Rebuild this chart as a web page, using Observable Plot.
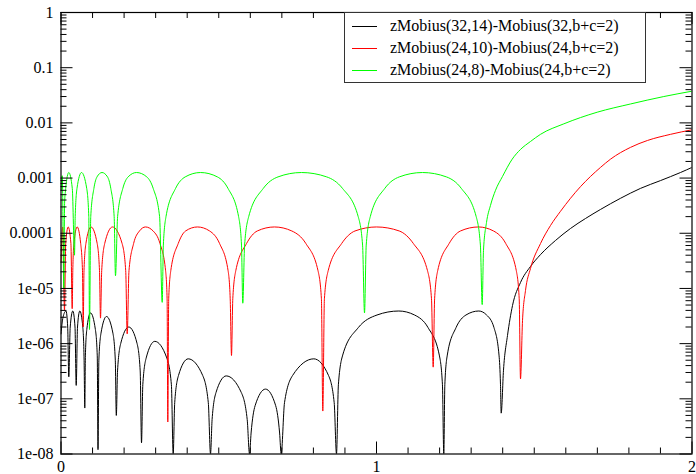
<!DOCTYPE html>
<html>
<head>
<meta charset="utf-8">
<script src="https://cdn.jsdelivr.net/npm/d3@7"></script>
<script src="https://cdn.jsdelivr.net/npm/@observablehq/plot@0.6"></script>
<style>
  body { margin: 0; background: #fff; }
  #wrap { position: relative; width: 696px; height: 474px; font-family: "Liberation Serif", "DejaVu Serif", serif; }
  #wrap svg, #wrap svg text { font-family: "Liberation Serif", "DejaVu Serif", serif !important; }
  #legend { position: absolute; left: 344px; top: 12px; width: 302px; height: 71px; box-sizing: border-box;
            border: 1px solid #333; background: #fff; font-size: 16px; color: #000; }
  .row { position: absolute; left: 0; height: 20px; }
  .sw { position: absolute; left: 7px; width: 25px; top: 10px; height: 0; border-top: 1px solid; }
  .lab { position: absolute; left: 45px; top: 0; line-height: 20px; white-space: nowrap; }
</style>
</head>
<body>
<div id="wrap"></div>
<script>
// ---------- data ----------
const seriesNames = [
  "zMobius(32,14)-Mobius(32,b+c=2)",
  "zMobius(24,10)-Mobius(24,b+c=2)",
  "zMobius(24,8)-Mobius(24,b+c=2)"
];
const seriesColors = ["#000000", "#ff0000", "#00ff00"];

const blackX = [0,0.0063,0.0158,0.0212,0.0247, 0.0292,0.0374,0.0444,0.0482,
  0.0523,0.0596,0.0691,0.0732,0.0754, 0.0773,0.0818,0.0935,0.109,0.1149,0.1173,
  0.12,0.1268,0.1442,0.1645,0.1721,0.1753, 0.1792,0.1892,0.2149,0.2412,0.251,0.2552,
  0.2593,0.27,0.2973,0.3353,0.3499,0.3556, 0.3604,0.3724,0.4032,0.4491,0.4669,0.4739,
  0.4789,0.4913,0.5236,0.5715,0.5902,0.5975, 0.6025,0.6152,0.6482,0.6805,0.6929,0.6979,
  0.7084,0.7341,0.8013,0.8479,0.8659,0.8732,
  0.8792,0.8929,0.9423,1.0016,1.0707,1.1206,1.1634,1.199,1.209,1.2133,
  1.2166,1.2244,1.2521,1.2835,1.3242,1.349,1.3724,1.3883,1.393,1.3952,
  1.4025,1.4152,1.4311,1.4564,1.4881,1.5198,1.5674,1.6149,1.6624,1.71,1.7734,1.8368,1.9002,1.9635,2.0];
const blackY = [1.5e-6,3.0e-6,3.9e-6,2.0e-6,2.5e-7, 2.0e-6,3.9e-6,2.0e-6,1.75e-7,
  2.0e-6,3.9e-6,2.0e-6,5.0e-7,6.8e-8, 6e-7,1.8e-6,3.6e-6,1.8e-6,6e-7,1.2e-8,
  5e-7,1.55e-6,3.1e-6,1.55e-6,5e-7,5e-8, 3.2e-7,1e-6,2e-6,1e-6,3.2e-7,1.6e-8,
  1.8e-7,5.5e-7,1.1e-6,5.5e-7,1.8e-7,1e-8, 8.5e-8,2.65e-7,5.3e-7,2.65e-7,8.5e-8,1e-8,
  4.2e-8,1.3e-7,2.6e-7,1.3e-7,4.2e-8,1e-8, 2.4e-8,7.5e-8,1.5e-7,7.5e-8,2.4e-8,1e-8,
  8.5e-8,2.65e-7,5.3e-7,2.65e-7,8.5e-8,1e-8,
  1.8e-7,6.2e-7,1.95e-6,3.3e-6,3.9e-6,3.3e-6,1.95e-6,6.2e-7,1.8e-7,1e-8,
  1.8e-7,6.2e-7,1.95e-6,3.3e-6,3.9e-6,3.3e-6,1.95e-6,6.2e-7,1.8e-7,5.5e-8,
  3.3e-7,1.4e-6,4.9e-6,1.28e-5,2.5e-5,4.1e-5,7.4e-5,1.22e-4,1.85e-4,2.7e-4,4.3e-4,6.5e-4,9.0e-4,1.26e-3,1.56e-3];

const redX = [0,0.0054,0.0111, 0.0149,0.0228,0.0314,0.0355,
  0.0374,0.0409,0.0513,0.0624,0.0681,0.0704, 0.0729,0.0789,0.0951,0.1147,0.122,0.1252,
  0.129,0.1385,0.1632,0.1937,0.2051,0.2098,
  0.2155,0.2301,0.2488,0.2678,0.2919,0.3138,0.3315,0.3363,0.3385,
  0.3414,0.348,0.3715,0.3949,0.4326,0.471,0.5027,0.5296,0.5363,0.5404,
  0.5445,0.554,0.588,0.6222,0.6767,0.7315,0.7762,0.8146,0.8254,0.8298,
  0.8349,0.8469,0.8894,0.9319,1.0,1.072,1.117,1.1616,1.1743,1.1797,
  1.1842,1.194,1.2301,1.2662,1.3233,1.3708,1.4098,1.4431,1.4523,1.4564,
  1.4628,1.4723,1.4881,1.5198,1.5515,1.5832,1.6149,1.6466,1.6783,1.71,1.7417,1.8051,1.859,1.9319,2.0];
const redY = [3e-5,1.3e-4,4e-6, 6.5e-5,1.3e-4,6.5e-5,4.3e-6,
  2.1e-5,6.5e-5,1.3e-4,6.5e-5,2.1e-5,2e-6, 2.1e-5,6.5e-5,1.3e-4,6.5e-5,2.1e-5,2.9e-6,
  2.1e-5,6.5e-5,1.3e-4,6.5e-5,2.1e-5,1.5e-6,
  2.1e-5,6.5e-5,1.1e-4,1.3e-4,1.1e-4,6.5e-5,2.1e-5,6.5e-6,3.8e-8,
  6.5e-6,2.1e-5,6.5e-5,1.1e-4,1.3e-4,1.1e-4,6.5e-5,2.1e-5,6.5e-6,6.1e-7,
  6.5e-6,2.1e-5,6.5e-5,1.1e-4,1.3e-4,1.1e-4,6.5e-5,2.1e-5,6.5e-6,6e-8,
  6.5e-6,2.1e-5,6.5e-5,1.1e-4,1.3e-4,1.1e-4,6.5e-5,2.1e-5,6.5e-6,3.75e-7,
  6.5e-6,2.1e-5,6.5e-5,1.1e-4,1.3e-4,1.1e-4,6.5e-5,2.1e-5,6.5e-6,2.3e-7,
  2.6e-6,9.2e-6,2.3e-5,6.5e-5,1.38e-4,2.5e-4,4.3e-4,7e-4,1.07e-3,1.56e-3,2.2e-3,3.6e-3,4.8e-3,6.2e-3,7.5e-3];

const greenX = [0,0.0041,0.0089, 0.0114,0.0149,0.0247,0.0358,0.0428,
  0.045,0.0507,0.065,0.0815,0.0881,0.0903,
  0.0943,0.1043,0.1141,0.13,0.1474,0.1578,0.1685,0.1727,
  0.1794,0.196,0.2127,0.2393,0.2719,0.2922,0.3125,0.3208,
  0.3244,0.3328,0.3632,0.3937,0.4422,0.4957,0.5293,0.5629,0.5721,0.5762,
  0.5819,0.5949,0.6412,0.6878,0.7623,0.8422,0.8922,0.942,0.9559,0.962,
  0.9674,0.9803,1.0263,1.0723,1.1458,1.2216,1.2688,1.316,1.3293,1.335,
  1.3391,1.3487,1.3613,1.3772,1.3994,1.4301,1.4564,1.4881,1.5198,1.5937,1.6995,1.8051,1.9106,2.0];
const greenY = [6e-4,1.1e-3,9.9e-6, 3.5e-4,6.5e-4,1.26e-3,6.5e-4,4e-5,
  2e-4,6.5e-4,1.26e-3,6.5e-4,2e-4,1.8e-6,
  2e-4,6.5e-4,1.05e-3,1.26e-3,1.05e-3,6.5e-4,2e-4,1.7e-5,
  2e-4,6.5e-4,1.05e-3,1.26e-3,1.05e-3,6.5e-4,2e-4,5.6e-6,
  6.1e-5,2e-4,6.5e-4,1.05e-3,1.26e-3,1.05e-3,6.5e-4,2e-4,6.1e-5,5.4e-6,
  6.1e-5,2e-4,6.5e-4,1.05e-3,1.26e-3,1.05e-3,6.5e-4,2e-4,6.1e-5,3.6e-6,
  6.1e-5,2e-4,6.5e-4,1.05e-3,1.26e-3,1.05e-3,6.5e-4,2e-4,6.1e-5,5.1e-6,
  4.9e-5,1.57e-4,3.2e-4,6e-4,1.07e-3,2.2e-3,3.3e-3,4.6e-3,6.2e-3,9.6e-3,1.56e-2,2.2e-2,3.0e-2,3.75e-2];

const xMajor = [0, 1, 2];
const xLabels = ["0", "1", "2"];
const yMajor = [1e-8, 1e-7, 1e-6, 1e-5, 1e-4, 1e-3, 1e-2, 1e-1, 1];
const yLabels = ["1e-08", "1e-07", "1e-06", "1e-05", "0.0001", "0.001", "0.01", "0.1", "1"];

// ---------- chart ----------
const W = 696, H = 474;
const mL = 60.5, mR = 4.5, mT = 12, mB = 20.5;
const innerW = W - mL - mR, innerH = H - mT - mB;
const xMinor = d3.range(1, 20).filter(i => i !== 10).map(i => i / 10);
const yMinor = [];
for (let e = -8; e < 0; e++) for (let m = 2; m <= 9; m++) yMinor.push(+(m + "e" + e));

const toRows = (xs, ys) => xs.map((x, i) => ({x, y: ys[i]}));
const series = [toRows(blackX, blackY), toRows(redX, redY), toRows(greenX, greenY)];
const yLabelMap = new Map(yMajor.map((v, i) => [v, yLabels[i]]));
const xLabelMap = new Map(xMajor.map((v, i) => [v, xLabels[i]]));
const serif = "'Liberation Serif', 'DejaVu Serif', serif";

const major = 12, minor = 6;
const chart = Plot.plot({
  width: W, height: H,
  marginLeft: mL, marginRight: mR, marginTop: mT, marginBottom: mB,
  style: {fontFamily: serif, fontSize: "16px", background: "#fff", color: "#000"},
  x: {domain: [0, 2], axis: null},
  y: {type: "log", domain: [1e-8, 1], axis: null},
  marks: [
    // series
    ...series.map((rows, k) => Plot.line(rows, {x: "x", y: "y", stroke: seriesColors[k], strokeWidth: 1, curve: "monotone-x", clip: true})),
    // ticks (inward, on all four sides)
    Plot.tickY(yMinor, {y: d => d, insetRight: innerW - minor, stroke: "#000"}),
    Plot.tickY(yMinor, {y: d => d, insetLeft: innerW - minor, stroke: "#000"}),
    Plot.tickY(yMajor, {y: d => d, insetRight: innerW - major, stroke: "#000"}),
    Plot.tickY(yMajor, {y: d => d, insetLeft: innerW - major, stroke: "#000"}),
    Plot.tickX(xMinor, {x: d => d, insetTop: innerH - minor, stroke: "#000"}),
    Plot.tickX(xMinor, {x: d => d, insetBottom: innerH - minor, stroke: "#000"}),
    Plot.tickX(xMajor, {x: d => d, insetTop: innerH - major, stroke: "#000"}),
    Plot.tickX(xMajor, {x: d => d, insetBottom: innerH - major, stroke: "#000"}),
    Plot.frame({stroke: "#000", strokeWidth: 1.2}),
    // labels
    Plot.axisY(yMajor, {anchor: "left", label: null, tickSize: 0, tickPadding: 7.5, tickFormat: d => yLabelMap.get(d), fill: "#000", fontFamily: serif, fontSize: 16}),
    Plot.axisX(xMajor, {anchor: "bottom", label: null, tickSize: 0, tickPadding: 7, tickFormat: d => xLabelMap.get(d), fill: "#000", fontFamily: serif, fontSize: 16})
  ]
});

const wrap = document.getElementById("wrap");
wrap.appendChild(chart);

// legend box
const legend = document.createElement("div");
legend.id = "legend";
const rowTops = [3, 24.7, 47];
seriesNames.forEach((name, k) => {
  const row = document.createElement("div");
  row.className = "row";
  row.style.top = rowTops[k] + "px";
  const sw = document.createElement("div");
  sw.className = "sw";
  sw.style.borderTopColor = seriesColors[k];
  const lab = document.createElement("div");
  lab.className = "lab";
  lab.textContent = name;
  row.appendChild(sw); row.appendChild(lab);
  legend.appendChild(row);
});
wrap.appendChild(legend);
</script>
</body>
</html>
